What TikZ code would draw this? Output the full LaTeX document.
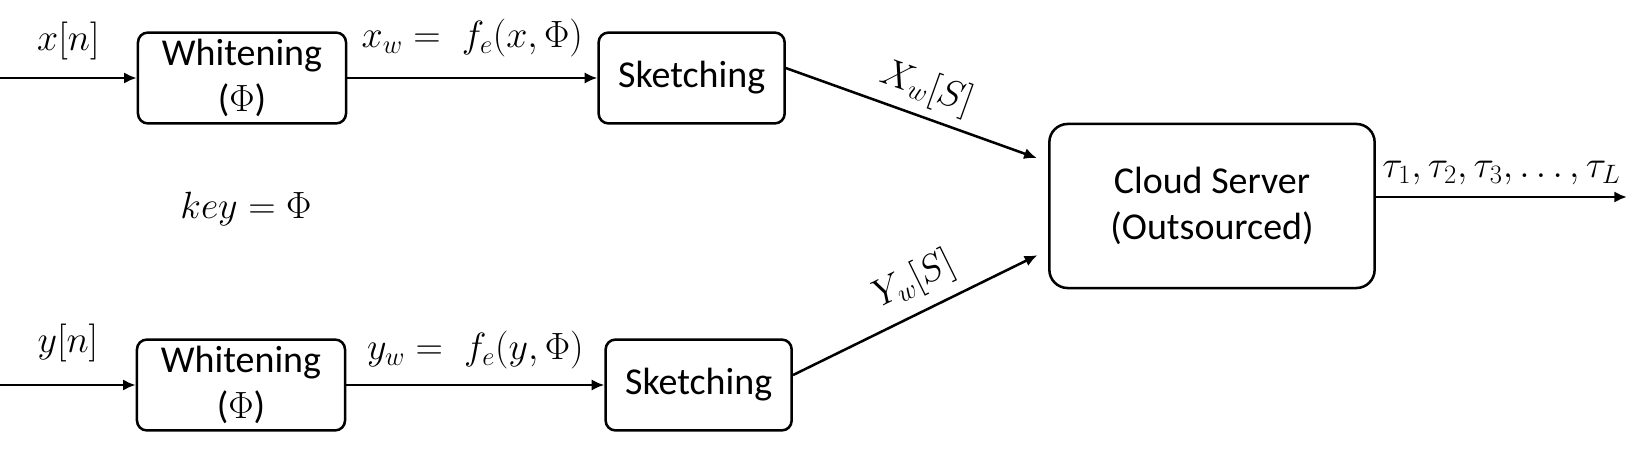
\RequirePackage{fix-cm}
\documentclass[tikz,border=0pt]{standalone}
\usepackage{fontspec}
\setmainfont{Carlito}
\usetikzlibrary{positioning, arrows.meta}

\begin{document}
\begin{tikzpicture}[
    x=0.025cm, y=-0.025cm,
    font=\fontsize{27}{33}\selectfont,
    block/.style={rectangle, draw=black, line width=1.8pt, rounded corners=7pt, minimum width=5.2cm, minimum height=2.27cm, align=center, inner sep=2pt},
    sketch/.style={block, minimum width=4.65cm},
    server/.style={block, rounded corners=13pt, minimum width=8.13cm, minimum height=4.1cm},
    link/.style={draw, line width=1.8pt, -{Latex[length=9pt, width=8pt]}},
    lbl/.style={inner sep=2pt}
]
\useasboundingbox (0,0) rectangle (1640,453);

% Blocks
\node[block] (WhiteX) at (242,78) {Whitening\\($\Phi$)};
\node[sketch, right=6.25cm of WhiteX] (SketchX) {Sketching};
\node[block] (WhiteY) at (241,385) {Whitening\\($\Phi$)};
\node[sketch, right=6.45cm of WhiteY] (SketchY) {Sketching};
\node[server] (Cloud) at (1212,206) {Cloud Server\\(Outsourced)};
\node[lbl] (Key) at (246,209) {$key = \Phi$};

% Free ends
\coordinate (InX) at (0,78);
\coordinate (InY) at (0,385);
\coordinate (Out) at (1627,197);

% Connections
\draw[link] (InX) -- node[lbl, midway, above=0.35cm] {$x[n]$} (WhiteX);
\draw[link] (WhiteX) -- node[lbl, midway, above=0.42cm] {$x_w =\; f_e(x,\Phi)$} (SketchX);
\draw[link, shorten >=0.3cm] (SketchX.6) -- node[lbl, midway, above=4pt, sloped] {$X_w[S]$} (Cloud.165);
\draw[link] (InY) -- node[lbl, midway, above=0.47cm] {$y[n]$} (WhiteY);
\draw[link] (WhiteY) -- node[lbl, midway, above=0.3cm] {$y_w =\; f_e(y,\Phi)$} (SketchY);
\draw[link, shorten >=0.3cm] (SketchY.6) -- node[lbl, pos=0.53, above=6pt, sloped] {$Y_w[S]$} (Cloud.195);
\draw[link] (Cloud.east |- Out) -- node[lbl, midway, above=0.2cm] {$\tau_1, \tau_2, \tau_3, \ldots, \tau_L$} (Out);

\end{tikzpicture}
\end{document}
